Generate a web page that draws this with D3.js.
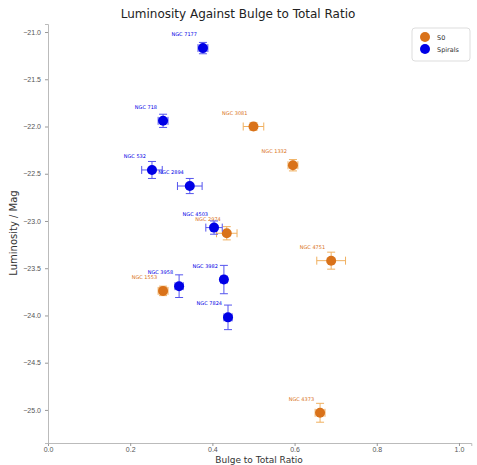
<!DOCTYPE html>
<html><head><meta charset="utf-8">
<script src="https://cdn.jsdelivr.net/npm/d3@7"></script>
<style>body{margin:0;background:#fff;}svg{font-family:"DejaVu Sans",sans-serif;}</style>
</head><body><svg id="c" width="477" height="465"></svg>
<script>
// S0 galaxies
const s0Names = ["NGC 3081","NGC 1332","NGC 2974","NGC 4751","NGC 1553","NGC 4373"];
const s0BT    = [0.50, 0.596, 0.435, 0.689, 0.28, 0.662];
const s0Lum   = [-22.00, -22.41, -23.13, -23.42, -23.74, -25.03];
const s0BTerr = [0.025, 0.012, 0.025, 0.035, 0.012, 0.012];
const s0Lerr  = [0.04, 0.06, 0.07, 0.09, 0.05, 0.10];
// Spirals
const spNames = ["NGC 7177","NGC 718","NGC 532","NGC 2894","NGC 4503","NGC 3982","NGC 3958","NGC 7824"];
const spBT    = [0.377, 0.28, 0.253, 0.345, 0.404, 0.428, 0.319, 0.438];
const spLum   = [-21.17, -21.94, -22.46, -22.63, -23.07, -23.62, -23.69, -24.02];
const spBTerr = [0.012, 0.012, 0.025, 0.03, 0.02, 0.008, 0.01, 0.01];
const spLerr  = [0.06, 0.07, 0.09, 0.08, 0.07, 0.15, 0.12, 0.13];
const xTicks = [0.0,0.2,0.4,0.6,0.8,1.0];
const yTicks = [-21.0,-21.5,-22.0,-22.5,-23.0,-23.5,-24.0,-24.5,-25.0];

const svg = d3.select("#c");
const x = d3.scaleLinear().domain([0,1.03]).range([48,471.3]);
const y = d3.scaleLinear().domain([-20.915,-25.35]).range([24,443]);
const fmt = d => d3.format(".1f")(d).replace("-","\u2212");

const xa = svg.append("g").attr("transform","translate(0,443)")
  .call(d3.axisBottom(x).tickValues(xTicks).tickFormat(fmt).tickSize(3).tickPadding(1));
const ya = svg.append("g").attr("transform","translate(48,0)")
  .call(d3.axisLeft(y).tickValues(yTicks).tickFormat(fmt).tickSize(3).tickPadding(4));
[xa,ya].forEach(a=>{
  a.selectAll(".domain").attr("stroke","#bbb");
  a.selectAll(".tick line").attr("stroke","#999");
  a.selectAll("text").attr("fill","#555").style("font-size","7px");
});

svg.append("text").attr("x",259).attr("y",18).attr("text-anchor","middle")
  .attr("x",238).style("font-size","12px").attr("fill","#222").text("Luminosity Against Bulge to Total Ratio");
svg.append("text").attr("x",259).attr("y",462.5).attr("text-anchor","middle")
  .style("font-size","9px").attr("fill","#333").text("Bulge to Total Ratio");
svg.append("text").attr("transform","translate(17,233) rotate(-90)").attr("text-anchor","middle")
  .style("font-size","10px").attr("fill","#333").text("Luminosity / Mag");

function drawSeries(names,bt,lum,bte,le,col,ecol){
  const g = svg.append("g");
  const cap = 4;
  names.forEach((n,i)=>{
    const cx=x(bt[i]), cy=y(lum[i]);
    const x0=x(bt[i]-bte[i]), x1=x(bt[i]+bte[i]);
    const y0=y(lum[i]-le[i]), y1=y(lum[i]+le[i]);
    g.append("line").attr("x1",x0).attr("x2",x1).attr("y1",cy).attr("y2",cy).attr("stroke",ecol).attr("stroke-width",1);
    g.append("line").attr("x1",cx).attr("x2",cx).attr("y1",y0).attr("y2",y1).attr("stroke",ecol).attr("stroke-width",1);
    [x0,x1].forEach(v=>g.append("line").attr("x1",v).attr("x2",v).attr("y1",cy-cap).attr("y2",cy+cap).attr("stroke",ecol).attr("stroke-width",1));
    [y0,y1].forEach(v=>g.append("line").attr("y1",v).attr("y2",v).attr("x1",cx-cap).attr("x2",cx+cap).attr("stroke",ecol).attr("stroke-width",1));
    g.append("circle").attr("cx",cx).attr("cy",cy).attr("r",5).attr("fill",col);
    g.append("text").attr("x",cx-6).attr("y",cy-12).attr("text-anchor","end")
      .style("font-size","5px").attr("fill",col).text(n);
  });
}
drawSeries(s0Names,s0BT,s0Lum,s0BTerr,s0Lerr,"#d9721a","#f0b060");
drawSeries(spNames,spBT,spLum,spBTerr,spLerr,"#0000e6","#5555ee");

// legend
const lg = svg.append("g");
lg.append("rect").attr("x",412).attr("y",28).attr("width",58).attr("height",33).attr("rx",3)
  .attr("fill","#fff").attr("stroke","#ddd");
[["S0","#d9721a"],["Spirals","#0000e6"]].forEach((d,i)=>{
  lg.append("circle").attr("cx",425).attr("cy",37+i*12).attr("r",5).attr("fill",d[1]);
  lg.append("text").attr("x",437).attr("y",39.5+i*12).style("font-size","6.5px").attr("fill","#333").text(d[0]);
});
</script></body></html>
